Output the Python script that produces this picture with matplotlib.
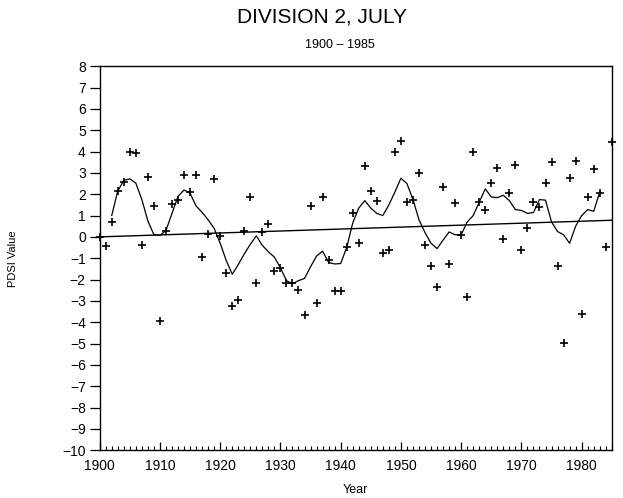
import matplotlib
matplotlib.use('Agg')
import matplotlib.pyplot as plt
from matplotlib.ticker import MultipleLocator

# annual July PDSI values, Division 2
years = list(range(1900, 1986))
pdsi = [0.0, -0.45, 0.68, 2.15, 2.57, 3.98, 3.93, -0.38, 2.81, 1.43,
        -3.95, 0.26, 1.56, 1.75, 2.89, 2.10, 2.89, -0.92, 0.12, 2.70,
        0.05, -1.67, -3.25, -2.95, 0.26, 1.87, -2.15, 0.23, 0.59, -1.62,
        -1.46, -2.15, -2.15, -2.48, -3.65, 1.45, -3.10, 1.87, -1.10, -2.53,
        -2.53, -0.48, 1.14, -0.27, 3.32, 2.15, 1.67, -0.74, -0.63, 3.98,
        4.50, 1.63, 1.71, 3.01, -0.37, -1.37, -2.36, 2.34, -1.26, 1.59,
        0.10, -2.83, 3.98, 1.63, 1.24, 2.53, 3.25, -0.12, 2.07, 3.39,
        -0.60, 0.41, 1.63, 1.40, 2.53, 3.53, -1.37, -4.97, 2.75, 3.58,
        -3.60, 1.87, 3.20, 2.07, -0.47, 4.45]

# smoothed curve
curve_years = list(range(1902, 1984))
curve_vals = [1.0, 2.15, 2.65, 2.72, 2.52, 1.75, 0.75, 0.1,
              0.07, 0.3, 1.1, 1.9, 2.2, 2.05, 1.45, 1.15, 0.8, 0.4,
              -0.3, -1.1, -1.75, -1.3, -0.8, -0.35, 0.05, -0.4, -0.7, -0.95,
              -1.45, -2.05, -2.2, -2.05, -1.95, -1.4, -0.9, -0.67, -1.2, -1.27,
              -1.25, -0.5, 0.65, 1.35, 1.7, 1.35, 1.1, 1.0, 1.5, 2.1,
              2.75, 2.5, 1.75, 0.8, 0.2, -0.3, -0.55, -0.15, 0.23, 0.1,
              0.1, 0.7, 1.0, 1.63, 2.25, 1.87, 1.84, 1.95, 1.7, 1.28,
              1.24, 1.1, 1.14, 1.75, 1.72, 0.7, 0.25, 0.1, -0.3, 0.5,
              1.0, 1.28, 1.2, 2.1]

# straight trend line
trend_years = [1900, 1985]
trend_vals = [0.0, 0.78]

plt.rcParams['font.family'] = ['Liberation Sans', 'DejaVu Sans']

fig = plt.figure(figsize=(6.23, 4.98), dpi=100)
ax = fig.add_axes([0.160, 0.096, 0.822, 0.771])

ax.plot(trend_years, trend_vals, color='black', lw=1.0)
ax.plot(curve_years, curve_vals, color='black', lw=0.9)
ax.plot(years, pdsi, linestyle='none', marker='+', color='black',
        markersize=6, markeredgewidth=1.2, clip_on=False)

ax.set_xlim(1900, 1985)
ax.set_ylim(-10, 8)
ax.xaxis.set_major_locator(MultipleLocator(10))
ax.xaxis.set_minor_locator(MultipleLocator(1))
ax.yaxis.set_major_locator(MultipleLocator(1))

ax.tick_params(axis='x', which='major', direction='in', length=6, width=0.9,
               labelsize=10, pad=6)
ax.tick_params(axis='x', which='minor', direction='in', length=3, width=0.8)
ax.tick_params(axis='y', which='major', direction='out', length=7, width=0.9,
               labelsize=10, pad=3)

for s in ax.spines.values():
    s.set_linewidth(1.0)

ax.set_xlabel('Year', fontsize=9, labelpad=8)
ax.set_ylabel('PDSI Value', fontsize=8, labelpad=32)

fig.text(0.517, 0.965, 'DIVISION 2, JULY', ha='center', va='center', fontsize=15)
fig.text(0.545, 0.909, '1900 \u2013 1985', ha='center', va='center', fontsize=9)

fig.savefig('out.png', dpi=100)
